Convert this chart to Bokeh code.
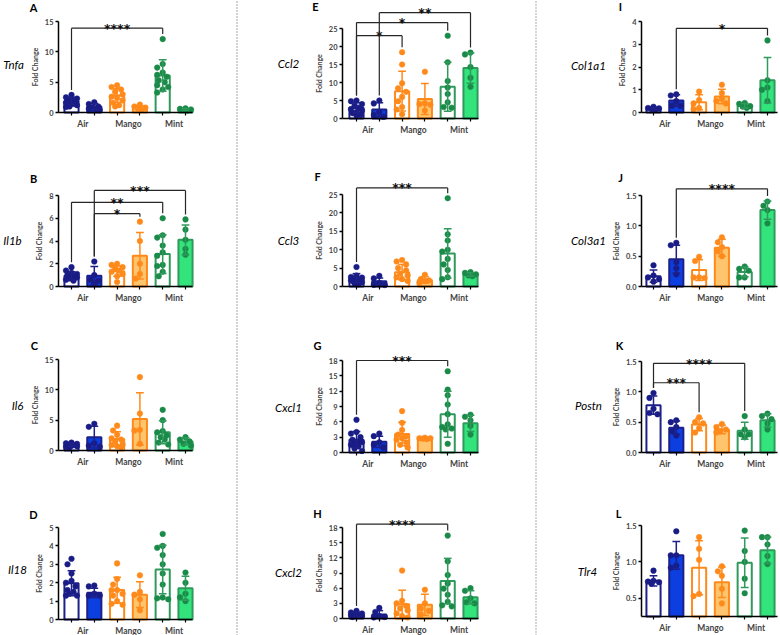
from bokeh.plotting import figure
from bokeh.layouts import row, column
from bokeh.models import Range1d, FixedTicker
from bokeh.embed import file_html
from bokeh.resources import INLINE
from bokeh.core.properties import value

# ---------------- data ----------------
groups = ["Air", "Mango", "Mint"]

tnfa_mean = [1.9, 1.0, 2.8, 0.8, 6.1, 0.5]
tnfa_sd = [0.6, 0.5, 1.1, 0.3, 2.6, 0.15]
tnfa_pts = [[2.9, 2.5, 2.3, 2.1, 2.0, 1.8, 1.7, 1.6, 1.4, 1.2, 1.0, 0.9],
            [1.7, 1.4, 1.0, 0.8, 0.6, 0.5, 0.4],
            [4.5, 4.2, 3.8, 3.4, 3.0, 2.6, 2.4, 2.0, 1.6, 1.2, 1.0],
            [1.3, 1.0, 0.8, 0.6, 0.5],
            [12.1, 8.0, 7.4, 6.6, 6.2, 5.9, 5.3, 5.0, 4.5, 4.2, 3.8, 3.3],
            [0.7, 0.6, 0.5, 0.4, 0.3]]
tnfa_sig = [(1, 5, 13.9, "****")]
tnfa_ticks = [0, 5, 10, 15]

il1b_mean = [0.95, 0.95, 1.35, 2.7, 2.85, 4.1]
il1b_sd = [0.35, 0.8, 0.45, 2.05, 1.7, 1.3]
il1b_pts = [[1.7, 1.4, 1.2, 1.1, 1.0, 0.9, 0.8, 0.7, 0.6, 0.5],
            [2.2, 1.0, 0.6, 0.5, 0.3],
            [2.0, 1.9, 1.7, 1.6, 1.4, 1.3, 1.1, 0.9, 0.4],
            [5.7, 4.0, 2.0, 1.1, 0.7],
            [6.0, 4.5, 4.3, 3.6, 3.0, 2.7, 1.9, 1.8, 1.3, 0.9],
            [5.9, 5.0, 4.1, 3.3, 2.8]]
il1b_sig = [(2, 4, 6.4, "*"), (1, 5, 7.4, "**"), (2, 6, 8.45, "***")]
il1b_ticks = [0, 2, 4, 6, 8]

il6_mean = [0.9, 2.2, 1.9, 5.2, 3.0, 1.5]
il6_sd = [0.25, 1.8, 1.2, 4.3, 1.9, 0.6]
il6_pts = [[1.3, 1.2, 1.1, 1.0, 0.9, 0.9, 0.8, 0.7, 0.6, 0.5],
           [4.4, 3.9, 1.2, 0.8, 0.6],
           [4.1, 3.3, 2.6, 2.0, 1.8, 1.5, 1.0, 0.9, 0.7, 0.5],
           [12.1, 6.1, 3.4, 3.3, 1.1],
           [6.7, 5.0, 3.2, 3.0, 2.5, 2.2, 1.8, 1.3, 1.0],
           [2.2, 1.8, 1.5, 1.1, 0.8]]
il6_sig = []
il6_ticks = [0, 5, 10, 15]

il18_mean = [1.97, 1.45, 1.6, 1.35, 2.72, 1.7]
il18_sd = [0.68, 0.25, 0.7, 0.7, 1.32, 0.65]
il18_pts = [[3.3, 3.0, 2.5, 2.1, 2.0, 1.8, 1.6, 1.5, 1.4, 1.3, 1.3],
            [1.85, 1.8, 1.4, 1.3, 1.3],
            [3.05, 2.2, 1.9, 1.6, 1.6, 1.4, 1.3, 1.0, 0.85, 0.8],
            [2.4, 1.5, 1.35, 1.1, 0.5],
            [4.65, 4.0, 3.9, 3.5, 3.0, 2.5, 1.9, 1.2, 1.15, 1.1],
            [2.55, 2.0, 1.4, 1.2, 1.0]]
il18_sig = []
il18_ticks = [0, 1, 2, 3, 4, 5]

ccl2_mean = [3.0, 2.5, 7.6, 5.4, 8.8, 14.0]
ccl2_sd = [1.4, 1.9, 5.5, 4.3, 6.8, 4.2]
ccl2_pts = [[5.0, 4.8, 4.0, 3.5, 3.0, 2.6, 2.2, 1.8, 1.5, 1.0, 0.8],
            [5.0, 4.2, 1.8, 1.0, 0.5],
            [18.4, 15.0, 9.8, 8.4, 7.4, 6.0, 4.8, 3.2, 2.5, 1.2],
            [13.0, 4.2, 4.0, 3.8, 2.2],
            [23.0, 15.6, 10.4, 8.6, 6.8, 4.5, 3.2, 3.0],
            [18.3, 17.8, 14.3, 11.3, 8.8]]
ccl2_sig = [(1, 3, 23.0, "*"), (1, 5, 26.65, "*"), (2, 6, 29.4, "**")]
ccl2_ticks = [0, 5, 10, 15, 20, 25]

ccl3_mean = [2.3, 1.4, 3.9, 1.8, 9.0, 3.3]
ccl3_sd = [1.2, 0.9, 2.1, 0.9, 6.7, 0.45]
ccl3_pts = [[5.3, 3.0, 2.6, 2.4, 2.1, 1.9, 1.6, 1.2, 0.8, 0.6],
            [2.9, 2.2, 1.0, 0.5, 0.4],
            [7.2, 6.8, 6.0, 5.0, 4.4, 3.5, 3.0, 2.5, 2.0, 1.5],
            [3.2, 2.0, 1.7, 1.5, 1.0],
            [24.0, 14.2, 12.5, 10.0, 9.5, 7.5, 6.0, 4.5, 2.5, 2.0],
            [3.9, 3.7, 3.3, 3.0, 2.8]]
ccl3_sig = [(1, 5, 26.8, "***")]
ccl3_ticks = [0, 5, 10, 15, 20, 25]

cxcl1_mean = [2.5, 2.1, 3.6, 2.7, 7.5, 5.7]
cxcl1_sd = [1.6, 1.1, 2.3, 0.15, 4.5, 1.6]
cxcl1_pts = [[6.4, 4.0, 3.7, 3.0, 2.5, 2.2, 2.0, 1.8, 1.5, 1.2, 0.8, 0.3],
             [3.7, 3.2, 2.0, 1.5, 1.0],
             [8.1, 5.8, 4.4, 3.5, 3.2, 2.8, 2.5, 2.0, 1.5, 1.0],
             [2.9, 2.8, 2.8, 2.7, 2.6],
             [15.9, 12.3, 11.2, 9.4, 7.5, 5.5, 5.0, 4.7, 4.5, 1.7],
             [7.4, 7.0, 6.3, 5.2, 3.5]]
cxcl1_sig = [(1, 5, 18.0, "***")]
cxcl1_ticks = [0, 3, 6, 9, 12, 15, 18]

cxcl2_mean = [0.8, 0.8, 2.8, 2.7, 7.4, 4.2]
cxcl2_sd = [0.4, 0.75, 2.8, 2.1, 4.5, 1.3]
cxcl2_pts = [[1.5, 1.2, 1.0, 0.9, 0.8, 0.7, 0.6, 0.5, 0.3],
             [2.1, 1.3, 0.5, 0.3, 0.2],
             [9.5, 3.5, 3.0, 2.5, 2.0, 1.6, 1.0, 0.5, 0.2],
             [5.7, 3.0, 2.0, 1.5, 0.8],
             [16.4, 11.3, 8.6, 6.9, 5.9, 4.7, 3.3, 2.6, 2.4],
             [6.0, 5.5, 4.0, 3.2, 3.0]]
cxcl2_sig = [(1, 5, 18.65, "****")]
cxcl2_ticks = [0, 3, 6, 9, 12, 15, 18]

col1a1_mean = [0.18, 0.53, 0.45, 0.7, 0.3, 1.42]
col1a1_sd = [0.05, 0.25, 0.33, 0.32, 0.1, 1.0]
col1a1_pts = [[0.25, 0.2, 0.18, 0.15, 0.12],
              [0.8, 0.75, 0.5, 0.3, 0.3],
              [0.92, 0.55, 0.4, 0.2, 0.15],
              [1.22, 0.85, 0.6, 0.5, 0.4],
              [0.42, 0.38, 0.28, 0.25, 0.2],
              [3.17, 1.42, 1.1, 1.0, 0.5]]
col1a1_sig = [(2, 6, 3.7, "*")]
col1a1_ticks = [0, 1, 2, 3, 4]

col3a1_mean = [0.17, 0.45, 0.27, 0.64, 0.24, 1.26]
col3a1_sd = [0.1, 0.23, 0.17, 0.14, 0.08, 0.15]
col3a1_pts = [[0.35, 0.18, 0.15, 0.12, 0.08],
              [0.72, 0.68, 0.4, 0.3, 0.2],
              [0.49, 0.42, 0.15, 0.15, 0.14],
              [0.81, 0.73, 0.65, 0.58, 0.5],
              [0.33, 0.29, 0.26, 0.15, 0.15],
              [1.4, 1.33, 1.26, 1.04]]
col3a1_sig = [(2, 6, 1.61, "****")]
col3a1_ticks = [0.0, 0.5, 1.0, 1.5]

postn_mean = [0.78, 0.41, 0.46, 0.38, 0.36, 0.53]
postn_sd = [0.15, 0.11, 0.1, 0.07, 0.14, 0.11]
postn_pts = [[0.98, 0.9, 0.72, 0.65, 0.63],
             [0.53, 0.5, 0.42, 0.35, 0.28],
             [0.58, 0.5, 0.48, 0.4, 0.33],
             [0.47, 0.42, 0.38, 0.35, 0.33],
             [0.6, 0.38, 0.3, 0.3, 0.25],
             [0.64, 0.6, 0.55, 0.48, 0.38]]
postn_sig = [(1, 3, 1.15, "***"), (1, 5, 1.47, "****")]
postn_ticks = [0.0, 0.5, 1.0, 1.5]

tlr4_mean = [0.74, 1.09, 0.92, 0.72, 0.99, 1.16]
tlr4_sd = [0.07, 0.19, 0.37, 0.21, 0.34, 0.18]
tlr4_pts = [[0.88, 0.74, 0.73, 0.72, 0.7],
            [1.42, 1.09, 1.09, 0.95, 0.92],
            [1.34, 1.18, 1.03, 0.56, 0.53],
            [0.94, 0.87, 0.81, 0.63, 0.43],
            [1.43, 1.15, 1.0, 0.77, 0.57],
            [1.34, 1.34, 1.24, 1.08, 0.97]]
tlr4_sig = []
tlr4_ticks = [0.5, 1.0, 1.5]

# ---------------- styles ----------------
LINE = ["#1c2088", "#1c2088", "#ff8a1a", "#ff8a1a", "#2f9a5c", "#2f9a5c"]
FILL = ["#ffffff", "#0b3fe0", "#ffffff", "#ffc56e", "#ffffff", "#33e37c"]
DOT = ["#1a1c86", "#1a1c86", "#ff8a1c", "#ff8a1c", "#1a8a48", "#1a8a48"]
FONT = "Lato"
SPACING = 22.8  # px between bar centres

COL_PX = {1: (0, 235), 2: (238, 534), 3: (537, 780)}
ROW_PX = {1: (0, 155), 2: (155, 315), 3: (315, 470), 4: (470, 635)}
COL_AX = {1: dict(Lx=58, Rx=192, B1=71),
          2: dict(Lx=342, Rx=478, B1=356),
          3: dict(Lx=641, Rx=777, B1=653)}

panels = [
    dict(name="Tnfa", letter="A", col=1, row=1, Fb=112, yt=21, ymin=0, top=15, ticks=tnfa_ticks,
         mean=tnfa_mean, sd=tnfa_sd, pts=tnfa_pts, sig=tnfa_sig, lp=(33, 7), gp=(13, 64)),
    dict(name="Il1b", letter="B", col=1, row=2, Fb=286, yt=195, ymin=0, top=8, ticks=il1b_ticks,
         mean=il1b_mean, sd=il1b_sd, pts=il1b_pts, sig=il1b_sig, lp=(33, 178), gp=(12, 240)),
    dict(name="Il6", letter="C", col=1, row=3, Fb=450, yt=359, ymin=0, top=15, ticks=il6_ticks,
         mean=il6_mean, sd=il6_sd, pts=il6_pts, sig=il6_sig, lp=(34, 345), gp=(17, 405)),
    dict(name="Il18", letter="D", col=1, row=4, Fb=619, yt=527, ymin=0, top=5, ticks=il18_ticks,
         mean=il18_mean, sd=il18_sd, pts=il18_pts, sig=il18_sig, lp=(33, 514), gp=(17, 569)),
    dict(name="Ccl2", letter="E", col=2, row=1, Fb=118, yt=28, ymin=0, top=25, ticks=ccl2_ticks,
         mean=ccl2_mean, sd=ccl2_sd, pts=ccl2_pts, sig=ccl2_sig, lp=(315, 6), gp=(288, 63)),
    dict(name="Ccl3", letter="F", col=2, row=2, Fb=286, yt=194, ymin=0, top=25, ticks=ccl3_ticks,
         mean=ccl3_mean, sd=ccl3_sd, pts=ccl3_pts, sig=ccl3_sig, lp=(317, 176), gp=(288, 240)),
    dict(name="Cxcl1", letter="G", col=2, row=3, Fb=452, yt=360, ymin=0, top=18, ticks=cxcl1_ticks,
         mean=cxcl1_mean, sd=cxcl1_sd, pts=cxcl1_pts, sig=cxcl1_sig, lp=(317, 345), gp=(288, 407)),
    dict(name="Cxcl2", letter="H", col=2, row=4, Fb=618, yt=527, ymin=0, top=18, ticks=cxcl2_ticks,
         mean=cxcl2_mean, sd=cxcl2_sd, pts=cxcl2_pts, sig=cxcl2_sig, lp=(317, 513), gp=(288, 572)),
    dict(name="Col1a1", letter="I", col=3, row=1, Fb=112, yt=21, ymin=0, top=4, ticks=col1a1_ticks,
         mean=col1a1_mean, sd=col1a1_sd, pts=col1a1_pts, sig=col1a1_sig, lp=(620, 6), gp=(588, 65)),
    dict(name="Col3a1", letter="J", col=3, row=2, Fb=286, yt=195, ymin=0, top=1.5, ticks=col3a1_ticks,
         mean=col3a1_mean, sd=col3a1_sd, pts=col3a1_pts, sig=col3a1_sig, lp=(620, 177), gp=(588, 240)),
    dict(name="Postn", letter="K", col=3, row=3, Fb=452, yt=361, ymin=0, top=1.5, ticks=postn_ticks,
         mean=postn_mean, sd=postn_sd, pts=postn_pts, sig=postn_sig, lp=(619, 345), gp=(588, 405)),
    dict(name="Tlr4", letter="L", col=3, row=4, Fb=616, yt=525, ymin=0.25, top=1.5, ticks=tlr4_ticks,
         mean=tlr4_mean, sd=tlr4_sd, pts=tlr4_pts, sig=tlr4_sig, lp=(618, 513), gp=(587, 571)),
]


def fmt(t):
    return ("%d" % t) if isinstance(t, int) else ("%.1f" % t)


def swarm(vals, ppu, dot_px):
    """deterministic horizontal spread (in px) of dots with close values"""
    cands = [0.0, -4.0, 4.0, -2.0, 2.0, -5.5, 5.5]
    placed = []
    offs = {}
    order = sorted(range(len(vals)), key=lambda k: -vals[k])
    for k in order:
        yk = vals[k] * ppu
        best, bestd = 0.0, -1
        for c in cands:
            d = min([((c - ox) ** 2 + (yk - oy) ** 2) ** 0.5 for ox, oy in placed] or [1e9])
            if d >= dot_px:
                best = c
                break
            if d > bestd:
                best, bestd = c, d
        placed.append((best, yk))
        offs[k] = best
    return [offs[k] for k in range(len(vals))]


def make_panel(sp):
    cax = COL_AX[sp["col"]]
    c0, c1 = COL_PX[sp["col"]]
    r0, r1 = ROW_PX[sp["row"]]
    ppu = (sp["Fb"] - sp["yt"]) / float(sp["top"] - sp["ymin"])  # px / unit

    def xd(px):
        return 1 + (px - cax["B1"]) / SPACING

    def yd(py):
        return sp["ymin"] + (sp["Fb"] - py) / ppu

    # the frame is the whole cell; axes are drawn at fixed locations inside it
    p = figure(width=c1 - c0, height=r1 - r0,
               x_range=Range1d(xd(c0), xd(c1)), y_range=Range1d(yd(r1), yd(r0)),
               output_backend="svg", toolbar_location=None, title=None,
               min_border=0, min_border_left=0, min_border_right=0,
               min_border_top=0, min_border_bottom=0)
    p.outline_line_color = None
    p.xgrid.visible = False
    p.ygrid.visible = False

    xs_bar = [1, 2, 3, 4, 5, 6]
    p.vbar(x=xs_bar, top=sp["mean"], bottom=sp["ymin"], width=0.62,
           fill_color=FILL, line_color=LINE, line_width=2)
    # dots
    for i, vals in enumerate(sp["pts"]):
        offs = swarm(vals, ppu, 5.6)
        p.scatter(x=[xs_bar[i] + o / SPACING for o in offs], y=vals, size=5.6,
                  fill_color=DOT[i], line_color=DOT[i], line_width=0.5)
    # error bars (mean +/- SD)
    lo = [m - s for m, s in zip(sp["mean"], sp["sd"])]
    hi = [m + s for m, s in zip(sp["mean"], sp["sd"])]
    p.segment(x0=xs_bar, y0=lo, x1=xs_bar, y1=hi, line_color=LINE, line_width=1.5)
    cw = 0.17
    p.segment(x0=[x - cw for x in xs_bar], y0=hi, x1=[x + cw for x in xs_bar], y1=hi,
              line_color=LINE, line_width=1.5)
    p.segment(x0=[x - cw for x in xs_bar], y0=lo, x1=[x + cw for x in xs_bar], y1=lo,
              line_color=LINE, line_width=1.5)
    # significance brackets
    gap = 5.0 / ppu
    for (a, b, lev, stars) in sp["sig"]:
        ta = max(max(sp["pts"][a - 1]), hi[a - 1]) + gap
        tb = max(max(sp["pts"][b - 1]), hi[b - 1]) + gap
        p.segment(x0=[a, a, b], y0=[lev, lev, lev], x1=[b, a, b],
                  y1=[lev, min(ta, lev), min(tb, lev)],
                  line_color="#262626", line_width=1.2)
        p.text(x=[(a + b) / 2.0], y=[lev], text=[stars], text_align="center",
               text_baseline="alphabetic", text_font=value("DejaVu Sans"),
               text_font_style="bold", text_font_size="12.5px", text_color="#111111")

    # axes
    ya = p.yaxis[0]
    ya.fixed_location = xd(cax["Lx"])
    ya.ticker = FixedTicker(ticks=sp["ticks"], minor_ticks=[])
    ya.major_label_overrides = {t: fmt(t) for t in sp["ticks"]}
    ya.bounds = (sp["ymin"], sp["top"])
    ya.axis_label = "Fold Change"
    ya.axis_label_text_font = FONT
    ya.axis_label_text_font_style = "bold"
    ya.axis_label_text_font_size = "7px"
    ya.axis_label_standoff = 3
    ya.major_label_text_font = FONT
    ya.major_label_text_font_style = "bold"
    ya.major_label_text_font_size = "7.5px"
    ya.major_label_standoff = 2
    ya.major_tick_in = 0
    ya.major_tick_out = 3
    ya.axis_line_width = 1.5
    ya.major_tick_line_width = 1.5
    ya.axis_line_color = "black"

    xa = p.xaxis[0]
    xa.fixed_location = sp["ymin"]
    xa.bounds = (xd(cax["Lx"]), xd(cax["Rx"]))
    xa.ticker = FixedTicker(ticks=[1.5, 3.5, 5.5], minor_ticks=xs_bar)
    xa.major_label_overrides = {1.5: groups[0], 3.5: groups[1], 5.5: groups[2]}
    xa.major_label_text_font = FONT
    xa.major_label_text_font_style = "bold"
    xa.major_label_text_font_size = "8.5px"
    xa.major_label_standoff = 3
    xa.major_tick_in = 0
    xa.major_tick_out = 0
    xa.minor_tick_in = 0
    xa.minor_tick_out = 3
    xa.minor_tick_line_width = 1.2
    xa.minor_tick_line_color = "black"
    xa.axis_line_width = 1.5
    xa.axis_line_color = "black"

    # panel letter and gene name
    p.text(x=[xd(sp["lp"][0])], y=[yd(sp["lp"][1])], text=[sp["letter"]],
           text_align="center", text_baseline="middle", text_font=value(FONT),
           text_font_style="bold", text_font_size="11px", text_color="black")
    p.text(x=[xd(sp["gp"][0])], y=[yd(sp["gp"][1])], text=[sp["name"]],
           text_align="center", text_baseline="middle", text_font=value(FONT),
           text_font_style="italic", text_font_size="11.5px", text_color="black")
    return p


def separator():
    s = figure(width=3, height=635, x_range=Range1d(0, 1), y_range=Range1d(0, 1),
               x_axis_type=None, y_axis_type=None, output_backend="svg",
               toolbar_location=None, title=None, min_border=0,
               min_border_left=0, min_border_right=0, min_border_top=0, min_border_bottom=0)
    s.outline_line_color = None
    s.segment(x0=[0.5], y0=[0], x1=[0.5], y1=[1], line_color="#8c8c8c",
              line_width=1.5, line_dash="1 2")
    return s


figs = [make_panel(sp) for sp in panels]
layout = row(column(*figs[0:4]), separator(), column(*figs[4:8]), separator(),
             column(*figs[8:12]))

open("out.html", "w").write(file_html(layout, INLINE))
